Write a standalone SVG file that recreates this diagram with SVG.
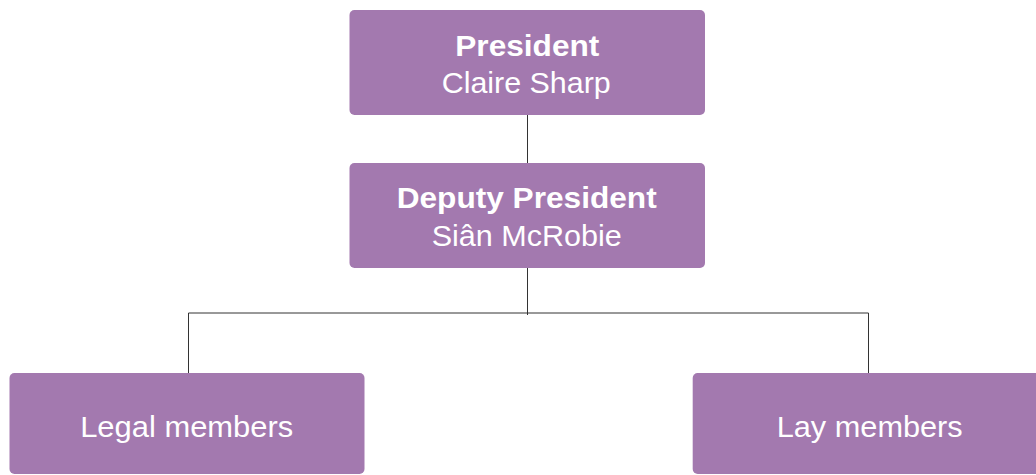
<svg xmlns="http://www.w3.org/2000/svg" width="1036" height="475" viewBox="0 0 1036 475">
<style>
.box{fill:#A379AF;}
.t{font-family:"Liberation Sans",Arial,sans-serif;fill:#ffffff;text-anchor:middle;font-size:29px;}
.b{font-weight:bold;}
.c{stroke:#333333;stroke-width:1;fill:none;}
</style>
<rect width="1036" height="475" fill="#ffffff"/>
<g id="connectors">
<line class="c" x1="527.5" y1="115" x2="527.5" y2="163"/>
<line class="c" x1="527.5" y1="268" x2="527.5" y2="315"/>
<polyline class="c" points="188.5,373 188.5,313 868.5,313 868.5,373" stroke="#555555"/>
</g>
<g id="president">
<rect class="box" x="349.5" y="10" width="355.5" height="105" rx="5"/>
<text class="t b" x="527.3" y="56" textLength="144" lengthAdjust="spacingAndGlyphs">President</text>
<text class="t" x="526.2" y="93.3" textLength="169" lengthAdjust="spacingAndGlyphs">Claire Sharp</text>
</g>
<g id="deputy">
<rect class="box" x="349.5" y="163" width="355.5" height="105" rx="5"/>
<text class="t b" x="526.7" y="208.3" textLength="260" lengthAdjust="spacingAndGlyphs">Deputy President</text>
<text class="t" x="526.7" y="246" textLength="190" lengthAdjust="spacingAndGlyphs">Siân McRobie</text>
</g>
<g id="legal">
<rect class="box" x="9.5" y="373" width="355" height="101" rx="5"/>
<text class="t" x="186.7" y="437.3" textLength="213" lengthAdjust="spacingAndGlyphs">Legal members</text>
</g>
<g id="lay">
<rect class="box" x="692.7" y="373" width="355" height="101" rx="5"/>
<text class="t" x="869.7" y="437.3" textLength="186" lengthAdjust="spacingAndGlyphs">Lay members</text>
</g>
</svg>
